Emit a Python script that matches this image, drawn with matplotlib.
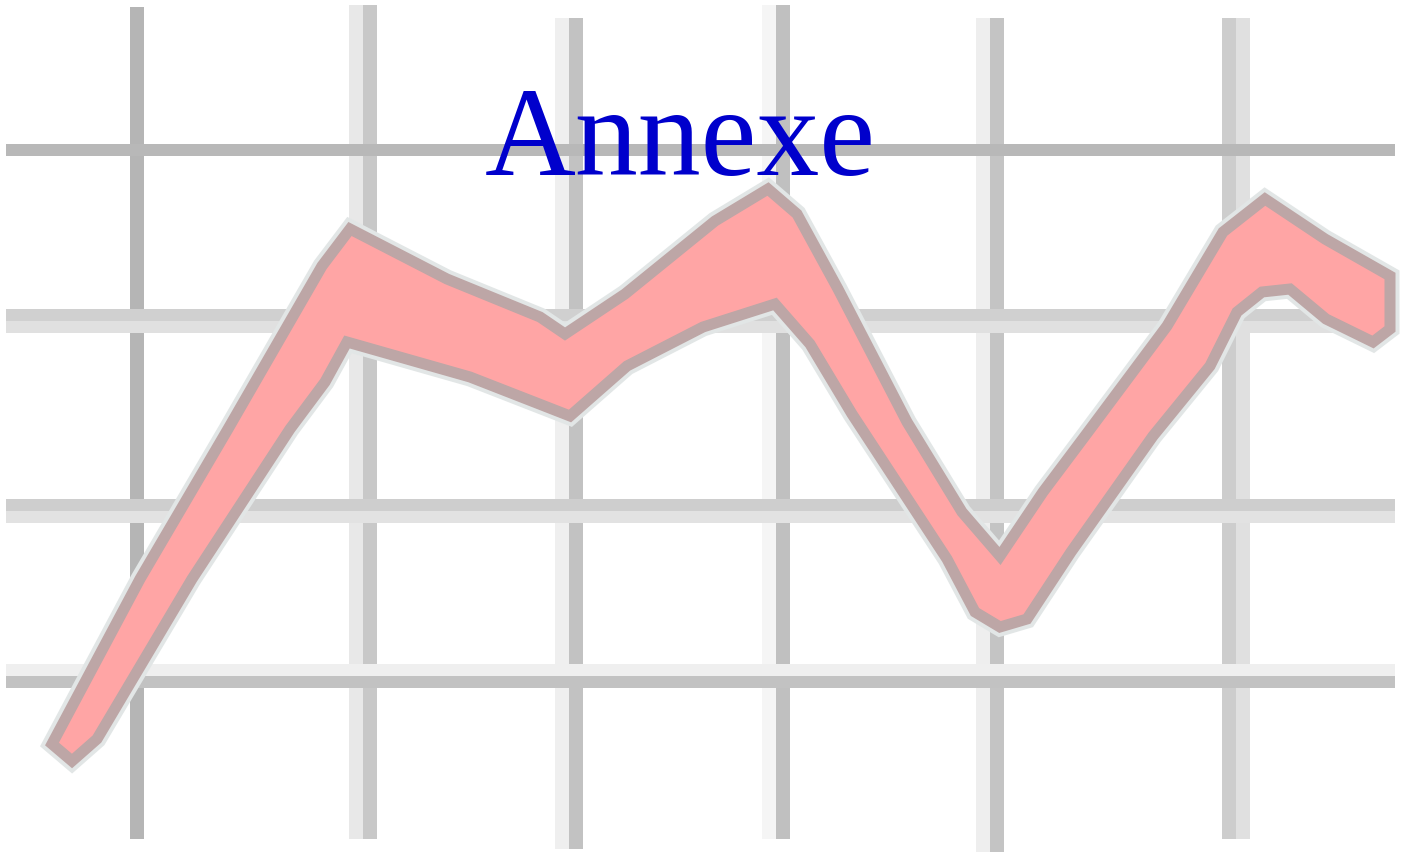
import matplotlib
matplotlib.use("Agg")
import matplotlib.pyplot as plt
import matplotlib.patheffects as pe
from matplotlib.patches import Polygon
import numpy as np

# picture is in pixel units (1406 x 853), y grows downwards
W, H = 1406, 853
PT = 0.72  # points per pixel at dpi 100

# grid lines: position, dark/light stripe order, colours, extent
vgrid_x = [137, 370, 576, 783, 997, 1229]
vgrid_dark = ['#b5b5b5', '#c8c8c8', '#c2c2c2', '#c0c0c0', '#c4c4c4', '#cdcdcd']
vgrid_light = [None, '#e8e8e8', '#efefef', '#f5f5f5', '#eeeeee', '#e0e0e0']
vgrid_light_side = [0, -1, -1, -1, -1, 1]
vgrid_top = [8, 6, 19, 6, 19, 19]
vgrid_bottom = [840, 840, 850, 840, 853, 840]

hgrid_y = [151, 316, 506, 683]
hgrid_dark = ['#b8b8b8', '#d0d0d0', '#cecece', '#c2c2c2']
hgrid_light = [None, '#e0e0e0', '#e2e2e2', '#efefef']
hgrid_light_side = [0, 1, 1, -1]
hgrid_left, hgrid_right = 6, 1395

# the pink band: upper and lower contour, left to right
upper_x = [52, 140, 228, 322, 350, 447, 540, 565, 625, 715, 768, 797, 838,
           907, 962, 1000, 1043, 1085, 1167, 1223, 1265, 1325, 1390]
upper_y = [745, 580, 430, 267, 230, 280, 318, 335, 295, 222, 190, 215, 290,
           423, 513, 557, 493, 437, 327, 233, 200, 240, 277]
lower_x = [72, 97, 192, 290, 325, 347, 470, 570, 627, 703, 775, 810, 852,
           947, 975, 1000, 1027, 1071, 1153, 1210, 1237, 1262, 1290, 1326,
           1373, 1390]
lower_y = [762, 740, 580, 430, 383, 343, 378, 417, 367, 328, 305, 345, 415,
           560, 613, 628, 620, 553, 437, 367, 313, 293, 290, 320, 343, 330]

title = "Annexe"

fig = plt.figure(figsize=(W / 100, H / 100), dpi=100)
ax = fig.add_axes([0, 0, 1, 1])
ax.set_xlim(0, W)
ax.set_ylim(H, 0)
ax.axis('off')

lw = 14 * PT
for x, dk, lt, side, y0, y1 in zip(vgrid_x, vgrid_dark, vgrid_light,
                                     vgrid_light_side, vgrid_top, vgrid_bottom):
    if lt is not None:
        ax.vlines(x + side * 14, y0, y1, colors=lt, lw=lw, capstyle='butt', zorder=1)
    ax.vlines(x, y0, y1, colors=dk, lw=lw, capstyle='butt', zorder=1)

for y, dk, lt, side in zip(hgrid_y, hgrid_dark, hgrid_light, hgrid_light_side):
    if lt is not None:
        ax.hlines(y + side * 12, hgrid_left, hgrid_right, colors=lt, lw=12 * PT,
                  capstyle='butt', zorder=1)
    ax.hlines(y, hgrid_left, hgrid_right, colors=dk, lw=12 * PT,
              capstyle='butt', zorder=1)

xs = np.r_[upper_x, lower_x[::-1]]
ys = np.r_[upper_y, lower_y[::-1]]
band = Polygon(np.c_[xs, ys], closed=True, facecolor='#ffa5a5',
               edgecolor='#bda6a6', lw=11 * PT, joinstyle='miter', zorder=3)
band.set_path_effects([pe.Stroke(linewidth=19 * PT, foreground='#e2e6e6'),
                       pe.Normal()])
ax.add_patch(band)

ax.text(680, 175, title, ha='center', va='baseline', fontsize=90.5,
        family=['Liberation Serif', 'DejaVu Serif'], color='#0000cc', zorder=5)

fig.savefig('out.png', dpi=100)
